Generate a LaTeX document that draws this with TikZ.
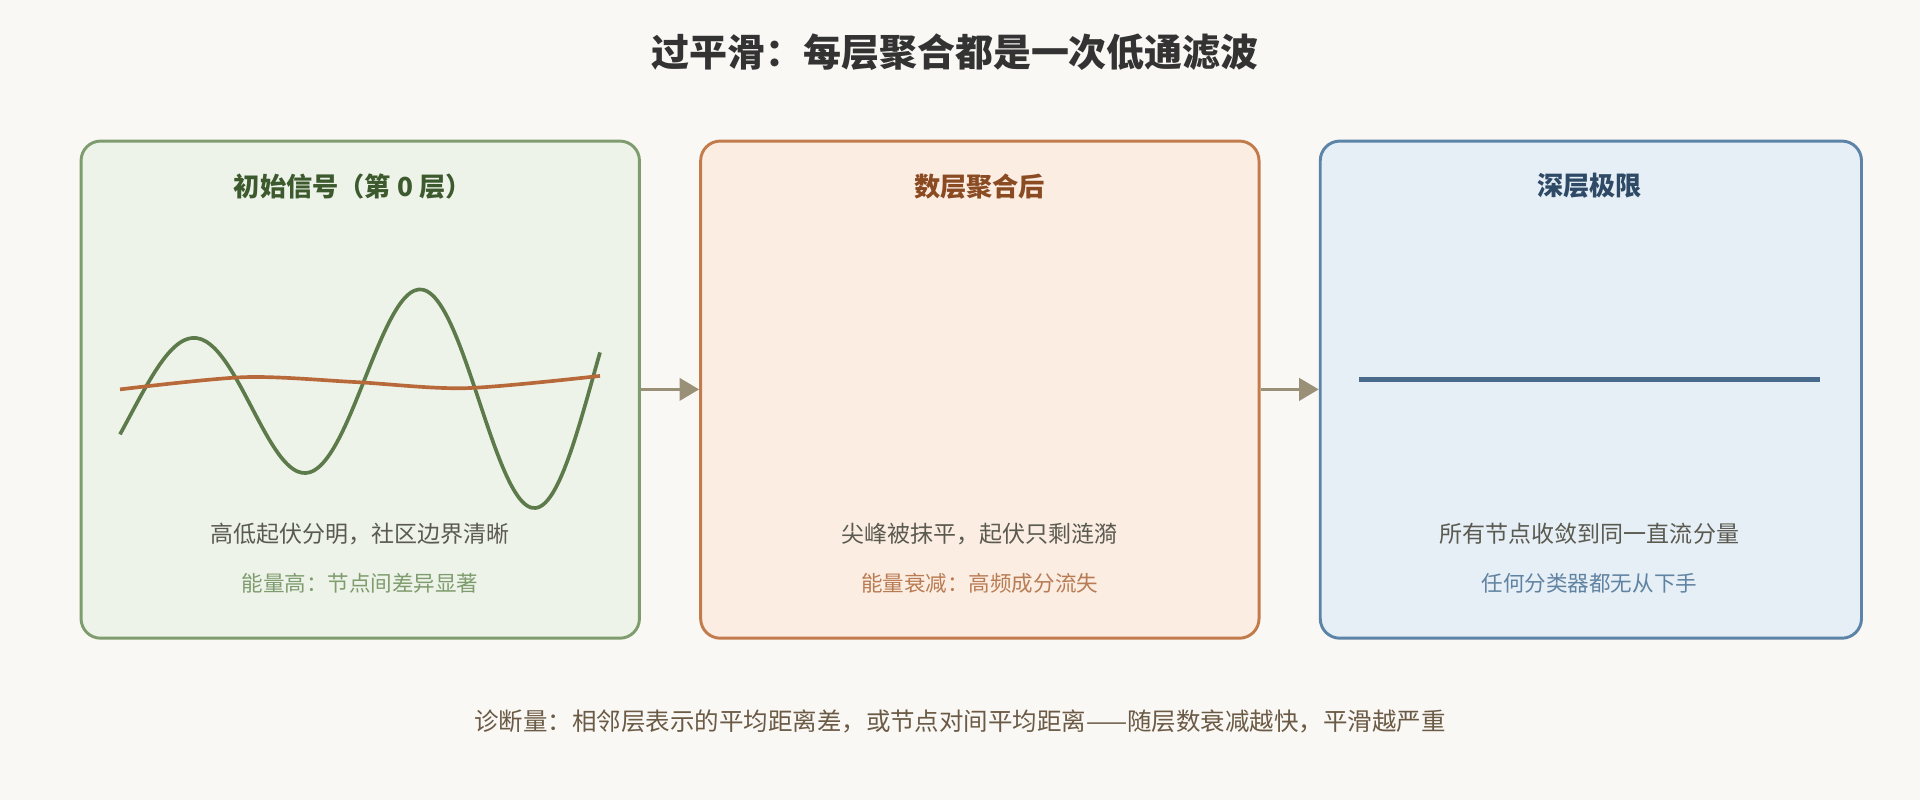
\documentclass[tikz,border=0pt]{standalone}
\usepackage{fontspec}
\setmainfont{Noto Sans CJK SC}
\usetikzlibrary{arrows.meta}
\definecolor{bg}{HTML}{FAF8F4}
\definecolor{gF}{HTML}{EEF3EA}\definecolor{gB}{HTML}{7E9C6E}\definecolor{gT}{HTML}{3D5A2E}\definecolor{gW}{HTML}{5C7A4A}
\definecolor{oF}{HTML}{FCEDE2}\definecolor{oB}{HTML}{C27C4C}\definecolor{oT}{HTML}{8A4A22}\definecolor{oW}{HTML}{B8693A}
\definecolor{bF}{HTML}{E6EEF6}\definecolor{bB}{HTML}{5C84A8}\definecolor{bT}{HTML}{2E4A66}\definecolor{bW}{HTML}{4A6A8C}
\definecolor{txt}{HTML}{5A5A50}\definecolor{arr}{HTML}{9A9078}\definecolor{foot}{HTML}{6B5A45}
\tikzset{panel/.style={draw=#1,line width=2.4pt,rounded corners=16pt,minimum width=456pt,minimum height=406pt,anchor=north west},
ttl/.style={font=\fontsize{21.4}{25}\selectfont\bfseries},
t1/.style={font=\fontsize{18.8}{22}\selectfont},
t2/.style={font=\fontsize{17.6}{21}\selectfont},
conn/.style={arr,line width=3pt,-{Triangle[length=16pt,width=18pt]}}}
\begin{document}
\begin{tikzpicture}[x=1pt,y=-1pt]
\fill[bg] (0,0) rectangle (1568,653);
\useasboundingbox (0,0) rectangle (1568,653);
\node[font=\fontsize{31}{36}\selectfont\bfseries,text=black!80] (title) at (780,43) {过平滑：每层聚合都是一次低通滤波};
\node[panel=gB,fill=gF] (p1) at (65,114) {};
\node[panel=oB,fill=oF] (p2) at (571,114) {};
\node[panel=bB,fill=bF,minimum width=442pt] (p3) at (1077,114) {};
\node[ttl,text=gT] (h1) at (288,152) {初始信号（第 0 层）};
\node[ttl,text=oT] (h2) at (800,152) {数层聚合后};
\node[ttl,text=bT] (h3) at (1298,152) {深层极限};
\draw[gW,line width=3pt,domain=98:490,samples=120,smooth] plot (\x,{318+22*exp(-(\x-98)/40)+4-0.015*(\x-98)-(46+0.17*(\x-130))*sin(1.9149*(\x-106))});
\draw[oW,line width=3pt] plot[smooth] coordinates {(98,318) (200,308) (290,312) (380,317) (490,307)};
\draw[bW,line width=4pt] (1110,310) -- (1486,310);
\node[t1,text=txt] (a1) at (294,436) {高低起伏分明，社区边界清晰};
\node[t2,text=gB] (b1) at (294,476) {能量高：节点间差异显著};
\node[t1,text=txt] (a2) at (800,436) {尖峰被抹平，起伏只剩涟漪};
\node[t2,text=oB!85!gray] (b2) at (800,476) {能量衰减：高频成分流失};
\node[t1,text=txt] (a3) at (1298,436) {所有节点收敛到同一直流分量};
\node[t2,text=bB!85!gray] (b3) at (1298,476) {任何分类器都无从下手};
\draw[conn] (p1.east|-0,318) -- (p2.west|-0,318);
\draw[conn] (p2.east|-0,318) -- (p3.west|-0,318);
\node[font=\fontsize{20}{24}\selectfont,text=foot] (foot) at (784,589) {诊断量：相邻层表示的平均距离差，或节点对间平均距离——随层数衰减越快，平滑越严重};
\end{tikzpicture}
\end{document}
